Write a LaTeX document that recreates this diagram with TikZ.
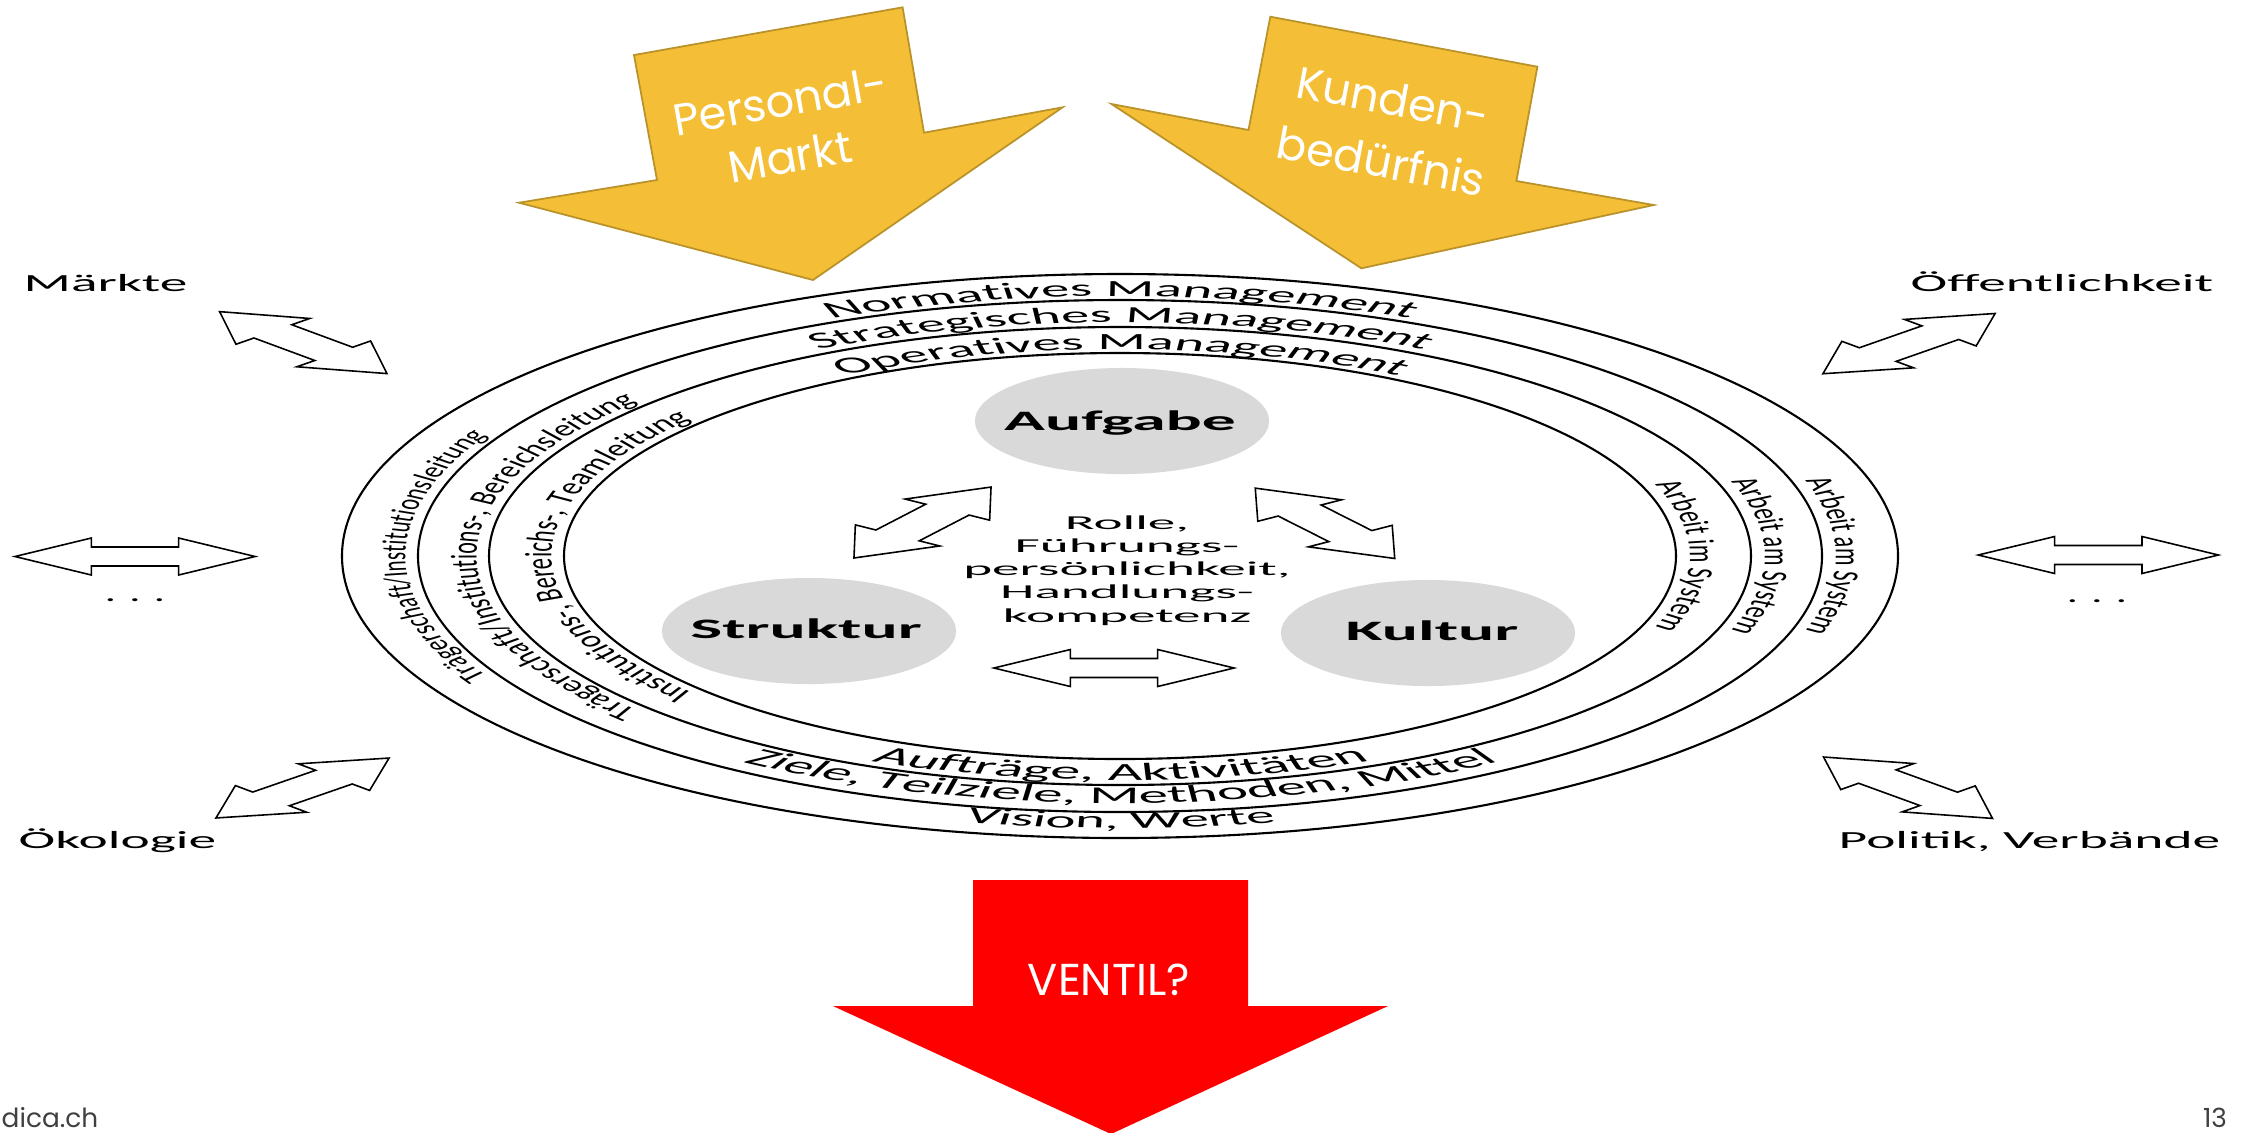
\documentclass[tikz,border=0pt]{standalone}
\usepackage{graphicx}
\usepackage{fontspec}
\setmainfont{Carlito}
\newfontfamily\geofont{Poppins}
\usetikzlibrary{decorations.text,shapes.geometric}

\definecolor{gold}{RGB}{244,191,54}
\definecolor{golddark}{RGB}{186,146,42}
\definecolor{cellgray}{RGB}{217,217,217}
\definecolor{ventilred}{RGB}{255,0,0}
\definecolor{footgray}{RGB}{64,64,64}

% horizontally stretched text
\newcommand\hstr[2]{\scalebox{#1}[1]{#2}}

\tikzset{
  ring/.style={draw=black, line width=0.6pt},
  ringlabel/.style 2 args={decorate, decoration={text along path, text align=center,
      text={|\fontsize{#2}{#2}\selectfont|#1}}},
  arrowline/.style={draw=black, fill=white, line width=0.45pt, line join=miter},
  dblarr/.pic={\path[arrowline] (-43.2,0) -- (-15.7,18.5) -- (-15.7,9.5) -- (15.7,9.5)
      -- (15.7,18.5) -- (43.2,0) -- (15.7,-18.5) -- (15.7,-9.5) -- (-15.7,-9.5)
      -- (-15.7,-18.5) -- cycle;},
  cell/.style={ellipse, fill=cellgray, minimum width=2.94cm, minimum height=1.06cm, inner sep=0pt},
  celltext/.style={anchor=base, inner sep=0pt, font=\fontsize{8}{9.6}\selectfont\bfseries},
  envtext/.style={inner sep=0pt, font=\fontsize{7}{8.4}\selectfont},
  goldarrow/.style={fill=gold, draw=golddark, line width=0.5pt, line join=miter},
  goldtext/.style={text=white, align=center, inner sep=0pt},
  foot/.style={inner sep=0pt, text=footgray, font=\geofont\fontsize{7.5}{9}\selectfont},
}

\begin{document}
\begin{tikzpicture}[x=0.01cm, y=-0.01cm]
\useasboundingbox (0,0) rectangle (2254,1132);
\fill[white] (0,0) rectangle (2254,1132);

% incoming arrows at the top
\path[goldarrow] (634,55) -- (902.6,7.3) -- (924,132.7) -- (1062.6,107.3) -- (813,280)
  -- (519,202.7) -- (657,180) -- cycle;
\node[goldtext, rotate=10, font=\geofont\fontsize{12.7}{16}\selectfont] (personal) at (785,129) {Personal-\\Markt};
\path[goldarrow] (1270.3,16.7) -- (1537.4,66.7) -- (1516.4,181) -- (1653.8,205) -- (1361.4,268.3)
  -- (1111.5,104) -- (1248.5,130) -- cycle;
\node[goldtext, rotate=-10.6, font=\geofont\fontsize{12.7}{18}\selectfont] (kunden) at (1387,130) {Kunden-\\bedürfnis};

% management rings
\draw[ring] (1120,556) ellipse [x radius=778, y radius=282];
\draw[ring] (1120,556) ellipse [x radius=702, y radius=256];
\draw[ring] (1120,556) ellipse [x radius=631, y radius=229];
\draw[ring] (1120,556) ellipse [x radius=556, y radius=203];

% ring labels, top and bottom
\begin{scope}[transform canvas={shift={(11.2cm,-5.56cm)}, xscale=2.45}]
\begin{scope}[y=0.01cm]
  \path[ringlabel={Normatives Management}{6.6}] (180:291.4 and 260)
    arc [start angle=180, end angle=0, x radius=291.4, y radius=260];
  \path[ringlabel={Strategisches Management}{6.55}] (180:263.3 and 234)
    arc [start angle=180, end angle=0, x radius=263.3, y radius=234];
  \path[ringlabel={Operatives Management}{6.6}] (180:231.8 and 207)
    arc [start angle=180, end angle=0, x radius=231.8, y radius=207];
  \path[ringlabel={Vision, Werte}{6.6}] (180:305.7 and 272)
    arc [start angle=180, end angle=360, x radius=305.7, y radius=272];
  \path[ringlabel={Ziele, Teilziele, Methoden, Mittel}{6.85}] (180:278.8 and 247)
    arc [start angle=180, end angle=360, x radius=278.8, y radius=247];
  \path[ringlabel={Aufträge, Aktivitäten}{7}] (180:251.8 and 224)
    arc [start angle=180, end angle=360, x radius=251.8, y radius=224];
\end{scope}
\end{scope}

% ring labels, left and right
\begin{scope}[transform canvas={shift={(11.2cm,-5.56cm)}, xscale=1.7}]
\begin{scope}[y=0.01cm]
  \path[ringlabel={Trägerschaft/Institutionsleitung}{5.85}] (250:420.6 and 260)
    arc [start angle=250, end angle=110, x radius=420.6, y radius=260];
  \path[ringlabel={Trägerschaft/Institutions-, Bereichsleitung}{6.25}] (250:378.8 and 233.5)
    arc [start angle=250, end angle=110, x radius=378.8, y radius=233.5];
  \path[ringlabel={Institutions-, Bereichs-, Teamleitung}{6.4}] (250:334.7 and 207.5)
    arc [start angle=250, end angle=110, x radius=334.7, y radius=207.5];
  \path[ringlabel={Arbeit am System}{6.2}] (70:420.6 and 260)
    arc [start angle=70, end angle=-70, x radius=420.6, y radius=260];
  \path[ringlabel={Arbeit am System}{6.2}] (70:378.8 and 233.5)
    arc [start angle=70, end angle=-70, x radius=378.8, y radius=233.5];
  \path[ringlabel={Arbeit im System}{6.2}] (70:334.7 and 207.5)
    arc [start angle=70, end angle=-70, x radius=334.7, y radius=207.5];
\end{scope}
\end{scope}

% core: task, structure, culture
\node[cell] (aufgabe) at (1122,421) {};
\node[cell] (struktur) at (809,631) {};
\node[cell] (kultur) at (1428,633) {};
\node[celltext] (aufgabeT) at (1120,430) {\hstr{2.4}{Aufgabe}};
\node[celltext] (strukturT) at (806,638) {\hstr{2.4}{Struktur}};
\node[celltext] (kulturT) at (1432,640) {\hstr{2.4}{Kultur}};
\node[inner sep=0pt, font=\fontsize{5.6}{6.63}\selectfont] (rolle) at (1127,571)
  {\hstr{2.8}{\begin{tabular}{@{}c@{}}Rolle,\\Führungs-\\persönlichkeit,\\Handlungs-\\kompetenz\end{tabular}}};

% double arrows inside
\path (922.5,522.5) pic[xscale=2.78, rotate=55.2] {dblarr};
\path (1325,523.3) pic[xscale=2.78, rotate=-54.5] {dblarr};
\path (1114,668) pic[xscale=2.78] {dblarr};

% environment and its double arrows
\path (303.3,342.6) pic[xscale=2.78, rotate=-45.8] {dblarr};
\path (302.5,788) pic[xscale=2.78, rotate=43.9] {dblarr};
\path (1909,343.6) pic[xscale=2.78, rotate=44.2] {dblarr};
\path (1908,787.7) pic[xscale=2.78, rotate=-45.3] {dblarr};
\path (135,556.5) pic[xscale=2.78] {dblarr};
\path (2098.3,555) pic[xscale=2.78] {dblarr};

\node[envtext, anchor=base west] (maerkte) at (23,291.5) {\hstr{2.25}{Märkte}};
\node[envtext, anchor=base west] (oeffentl) at (1910,291.5) {\hstr{2.25}{Öffentlichkeit}};
\node[envtext, anchor=base west] (oekologie) at (18,848) {\hstr{2.25}{Ökologie}};
\node[envtext, anchor=base west] (politik) at (1838,848) {\hstr{2.25}{Politik, Verbände}};
\node[envtext] (dotsL) at (135,600) {\hstr{1.8}{. . .}};
\node[envtext] (dotsR) at (2097,601) {\hstr{1.8}{. . .}};

% outgoing valve
\fill[ventilred] (973,880) -- (1248,880) -- (1248,1006) -- (1388,1006) -- (1111,1134)
  -- (833,1006) -- (973,1006) -- cycle;
\node[inner sep=0pt, text=white, anchor=base, font=\geofont\fontsize{12.7}{15}\selectfont] (ventil) at (1109,995) {VENTIL?};

% footer
\node[foot, anchor=base west] (site) at (1,1127) {dica.ch};
\node[foot, anchor=base] (page) at (2215,1127) {13};
\end{tikzpicture}
\end{document}
